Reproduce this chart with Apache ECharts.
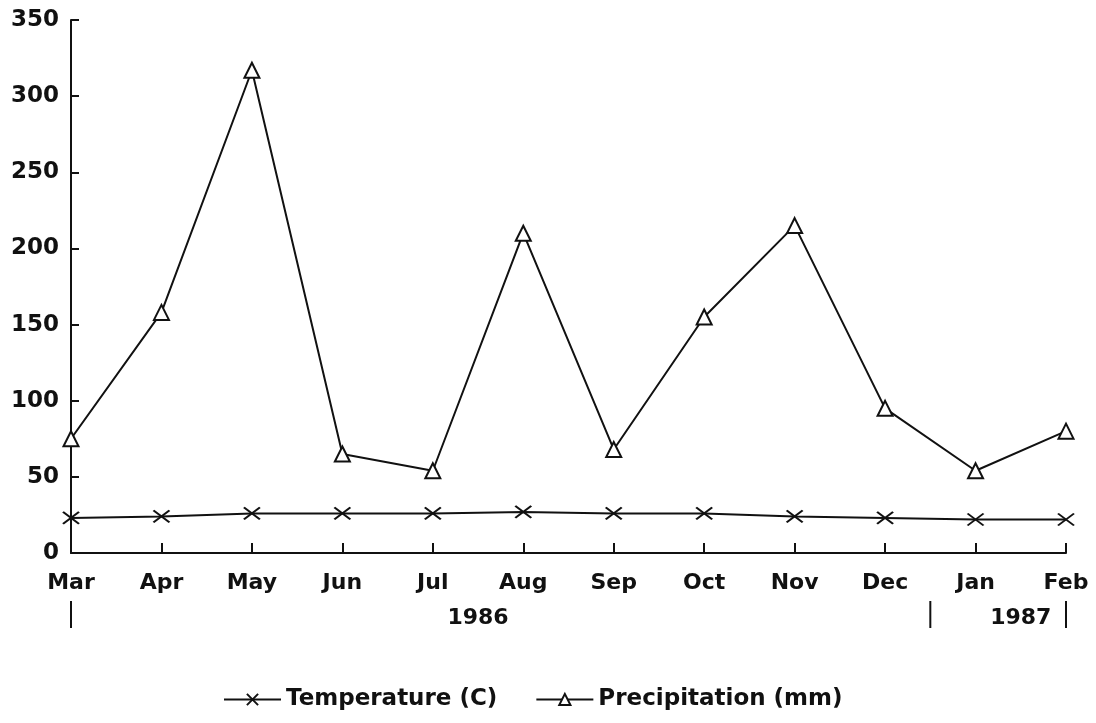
<!DOCTYPE html>
<html>
<head>
<meta charset="utf-8">
<script src="https://cdn.jsdelivr.net/npm/echarts@6/dist/echarts.min.js"></script>
<style>html,body{margin:0;padding:0;background:#fff}#c{width:1096px;height:723px}</style>
</head>
<body>
<div id="c"></div>
<script>
const months = ['Mar','Apr','May','Jun','Jul','Aug','Sep','Oct','Nov','Dec','Jan','Feb'];
const temperature = [23, 24, 26, 26, 26, 27, 26, 26, 24, 23, 22, 22];
const precipitation = [75, 158, 317, 65, 54, 210, 68, 155, 215, 95, 54, 80];
const yTicks = [0, 50, 100, 150, 200, 250, 300, 350];
const yearLabels = ['1986', '1987'];

const FONT = '"DejaVu Sans", "Liberation Sans", Arial, sans-serif';
const chart = echarts.init(document.getElementById('c'), null, {renderer: 'canvas'});
const xSym = 'path://M0,0L10,10M10,0L0,10';

chart.setOption({
  backgroundColor: '#fff',
  animation: false,
  grid: {left: 71, right: 30, top: 20, bottom: 170},
  legend: {
    bottom: 7, left: 218, itemGap: 38, itemWidth: 57, itemHeight: 14,
    textStyle: {fontFamily: FONT, fontWeight: 'bold', fontSize: 23, color: '#111'},
    data: ['Temperature (C)', 'Precipitation (mm)']
  },
  xAxis: {
    type: 'category', data: months, boundaryGap: false,
    axisLine: {lineStyle: {color: '#111', width: 2}},
    axisTick: {inside: true, length: 10, lineStyle: {color: '#111', width: 2}},
    axisLabel: {fontFamily: FONT, fontWeight: 'bold', fontSize: 22, color: '#111', margin: 19},
    splitLine: {show: false}
  },
  yAxis: {
    type: 'value', min: yTicks[0], max: yTicks[yTicks.length - 1], interval: 50,
    axisLine: {show: true, lineStyle: {color: '#111', width: 2}},
    axisTick: {show: true, inside: true, length: 8, lineStyle: {color: '#111', width: 2}},
    axisLabel: {fontFamily: FONT, fontWeight: 'bold', fontSize: 23, color: '#111', margin: 12},
    splitLine: {show: false}
  },
  series: [
    {
      name: 'Temperature (C)', type: 'line', data: temperature,
      symbol: xSym, symbolSize: [16, 12],
      lineStyle: {color: '#111', width: 2},
      itemStyle: {color: '#111', borderColor: '#111', borderWidth: 2}
    },
    {
      name: 'Precipitation (mm)', type: 'line', data: precipitation,
      symbol: 'emptyTriangle', symbolSize: 15,
      lineStyle: {color: '#111', width: 2},
      itemStyle: {color: '#111', borderColor: '#111', borderWidth: 2}
    }
  ]
});

// year annotations below the month labels
const px = m => chart.convertToPixel({xAxisIndex: 0}, m);
const xMar = px('Mar'), xDec = px('Dec'), xJan = px('Jan'), xFeb = px('Feb');
const xSep = (xDec + xJan) / 2;
const xJul = px('Jul'), xAug = px('Aug');
const sepY1 = 601, sepY2 = 628, yearY = 618;
const seg = x => ({type: 'line', shape: {x1: x, y1: sepY1, x2: x, y2: sepY2}, style: {stroke: '#111', lineWidth: 2}});
chart.setOption({
  graphic: [
    seg(xMar), seg(xSep), seg(xFeb),
    {type: 'text', x: (xJul + xAug) / 2, y: yearY, style: {text: yearLabels[0], font: 'bold 22px ' + FONT, fill: '#111', align: 'center', verticalAlign: 'middle'}},
    {type: 'text', x: (xJan + xFeb) / 2, y: yearY, style: {text: yearLabels[1], font: 'bold 22px ' + FONT, fill: '#111', align: 'center', verticalAlign: 'middle'}}
  ]
});
</script>
</body>
</html>
